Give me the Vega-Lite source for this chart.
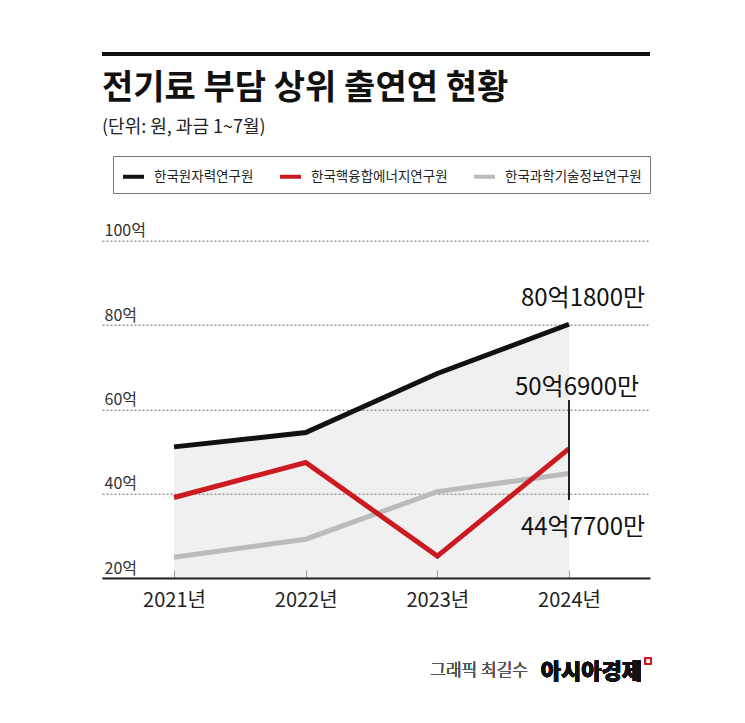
{
  "$schema": "https://vega.github.io/schema/vega-lite/v6.json",
  "width": 548,
  "height": 337.3,
  "autosize": {"type": "none"},
  "padding": {"left": 102, "top": 240.7, "right": 95, "bottom": 145},
  "background": "white",
  "config": {"font": "Noto Sans CJK KR", "view": {"stroke": null}},
  "title": {
    "text": "전기료 부담 상위 출연연 현황",
    "subtitle": "(단위: 원, 과금 1~7월)",
    "anchor": "start",
    "frame": "group",
    "fontSize": 34,
    "fontWeight": "bold",
    "color": "#111",
    "subtitleFontSize": 18,
    "subtitleColor": "#222",
    "subtitlePadding": 13,
    "offset": -84
  },
  "data": {
    "values": [
      {"year": 2021, "series": "한국과학기술정보연구원", "value": 24.9},
      {"year": 2022, "series": "한국과학기술정보연구원", "value": 29.2},
      {"year": 2023, "series": "한국과학기술정보연구원", "value": 40.5},
      {"year": 2024, "series": "한국과학기술정보연구원", "value": 44.77, "label": "44억7700만"},
      {"year": 2021, "series": "한국핵융합에너지연구원", "value": 39.1},
      {"year": 2022, "series": "한국핵융합에너지연구원", "value": 47.4},
      {"year": 2023, "series": "한국핵융합에너지연구원", "value": 25.2},
      {"year": 2024, "series": "한국핵융합에너지연구원", "value": 50.69, "label": "50억6900만"},
      {"year": 2021, "series": "한국원자력연구원", "value": 51.1},
      {"year": 2022, "series": "한국원자력연구원", "value": 54.5},
      {"year": 2023, "series": "한국원자력연구원", "value": 68.5},
      {"year": 2024, "series": "한국원자력연구원", "value": 80.18, "label": "80억1800만"}
    ]
  },
  "layer": [
    {
      "mark": {"type": "rule", "stroke": "#111", "strokeWidth": 3},
      "encoding": {"y": {"datum": 144.27, "type": "quantitative", "axis": {"grid": true}}}
    },
    {
      "transform": [{"filter": "datum.series === '한국원자력연구원'"}],
      "mark": {"type": "area", "color": "#999", "opacity": 0.15},
      "encoding": {
        "x": {"field": "year", "type": "quantitative", "title": null},
        "y": {"field": "value", "type": "quantitative", "title": null},
        "y2": {"datum": 20}
      }
    },
    {
      "mark": {"type": "line", "strokeWidth": 5},
      "encoding": {
        "x": {
          "field": "year",
          "type": "quantitative",
          "title": null,
          "scale": {"domain": [2020.453, 2024.615], "nice": false, "zero": false},
          "axis": {
            "values": [2021, 2022, 2023, 2024],
            "labelExpr": "datum.value + '년'",
            "grid": false,
            "domainColor": "#222",
            "domainWidth": 2,
            "tickSize": -8,
            "tickColor": "#999",
            "tickWidth": 1,
            "labelFontSize": 20,
            "labelColor": "#222",
            "labelPadding": 20,
            "labelFlush": false
          }
        },
        "y": {
          "field": "value",
          "type": "quantitative",
          "title": null,
          "scale": {"domain": [20, 100], "nice": false, "zero": false},
          "axis": {
            "values": [20, 40, 60, 80, 100],
            "labelExpr": "datum.value + '억'",
            "grid": true,
            "domain": false,
            "ticks": false,
            "tickSize": 0,
            "labelAlign": "left",
            "labelBaseline": "bottom",
            "labelPadding": -2,
            "labelOffset": -2,
            "labelFontSize": 16,
            "labelColor": "#333",
            "gridDash": [2, 2],
            "gridColor": "#666",
            "gridWidth": 1
          }
        },
        "color": {
          "field": "series",
          "type": "nominal",
          "scale": {
            "domain": ["한국원자력연구원", "한국핵융합에너지연구원", "한국과학기술정보연구원"],
            "range": ["#111111", "#cc1a22", "#bbbbbb"]
          },
          "legend": {
            "orient": "none",
            "legendX": 11,
            "legendY": -84.7,
            "direction": "horizontal",
            "title": null,
            "strokeColor": "#777",
            "padding": 8,
            "symbolType": "stroke",
            "symbolStrokeWidth": 4,
            "symbolSize": 440,
            "labelFontSize": 13.5,
            "labelOffset": 8,
            "columnPadding": 18,
            "labelColor": "#222"
          }
        }
      }
    },
    {
      "mark": {"type": "rule", "stroke": "#222", "strokeWidth": 1},
      "encoding": {
        "x": {"datum": 2024, "type": "quantitative"},
        "y": {"datum": 62.2, "type": "quantitative"},
        "y2": {"datum": 38.5}
      }
    },
    {
      "transform": [{"filter": "datum.series === '한국원자력연구원' && datum.label"}],
      "mark": {"type": "text", "align": "center", "baseline": "alphabetic", "fontSize": 24, "color": "#111", "dx": 14, "dy": -18},
      "encoding": {
        "x": {"field": "year", "type": "quantitative", "title": null},
        "y": {"field": "value", "type": "quantitative", "title": null},
        "text": {"field": "label"}
      }
    },
    {
      "transform": [{"filter": "datum.series === '한국핵융합에너지연구원' && datum.label"}],
      "mark": {"type": "text", "align": "center", "baseline": "alphabetic", "fontSize": 24, "color": "#111", "dx": 8, "dy": -54},
      "encoding": {
        "x": {"field": "year", "type": "quantitative", "title": null},
        "y": {"field": "value", "type": "quantitative", "title": null},
        "text": {"field": "label"}
      }
    },
    {
      "transform": [{"filter": "datum.series === '한국과학기술정보연구원' && datum.label"}],
      "mark": {"type": "text", "align": "center", "baseline": "alphabetic", "fontSize": 24, "color": "#111", "dx": 14, "dy": 61},
      "encoding": {
        "x": {"field": "year", "type": "quantitative", "title": null},
        "y": {"field": "value", "type": "quantitative", "title": null},
        "text": {"field": "label"}
      }
    },
    {
      "mark": {"type": "text", "text": "그래픽 최길수", "align": "right", "baseline": "alphabetic", "fontSize": 17, "fontWeight": 300, "color": "#555"},
      "encoding": {
        "x": {"datum": 2023.688, "type": "quantitative"},
        "y": {"datum": -3.24, "type": "quantitative"}
      }
    },
    {
      "mark": {"type": "text", "text": "아시아경제", "align": "right", "baseline": "alphabetic", "fontSize": 22, "fontWeight": 900, "color": "#111"},
      "encoding": {
        "x": {"datum": 2024.554, "type": "quantitative"},
        "y": {"datum": -3.95, "type": "quantitative"}
      }
    },
    {
      "mark": {"type": "point", "shape": "square", "filled": false, "stroke": "#d0161e", "strokeWidth": 1.5, "size": 30},
      "encoding": {
        "x": {"datum": 2024.6, "type": "quantitative"},
        "y": {"datum": 0.32, "type": "quantitative"}
      }
    }
  ]
}
